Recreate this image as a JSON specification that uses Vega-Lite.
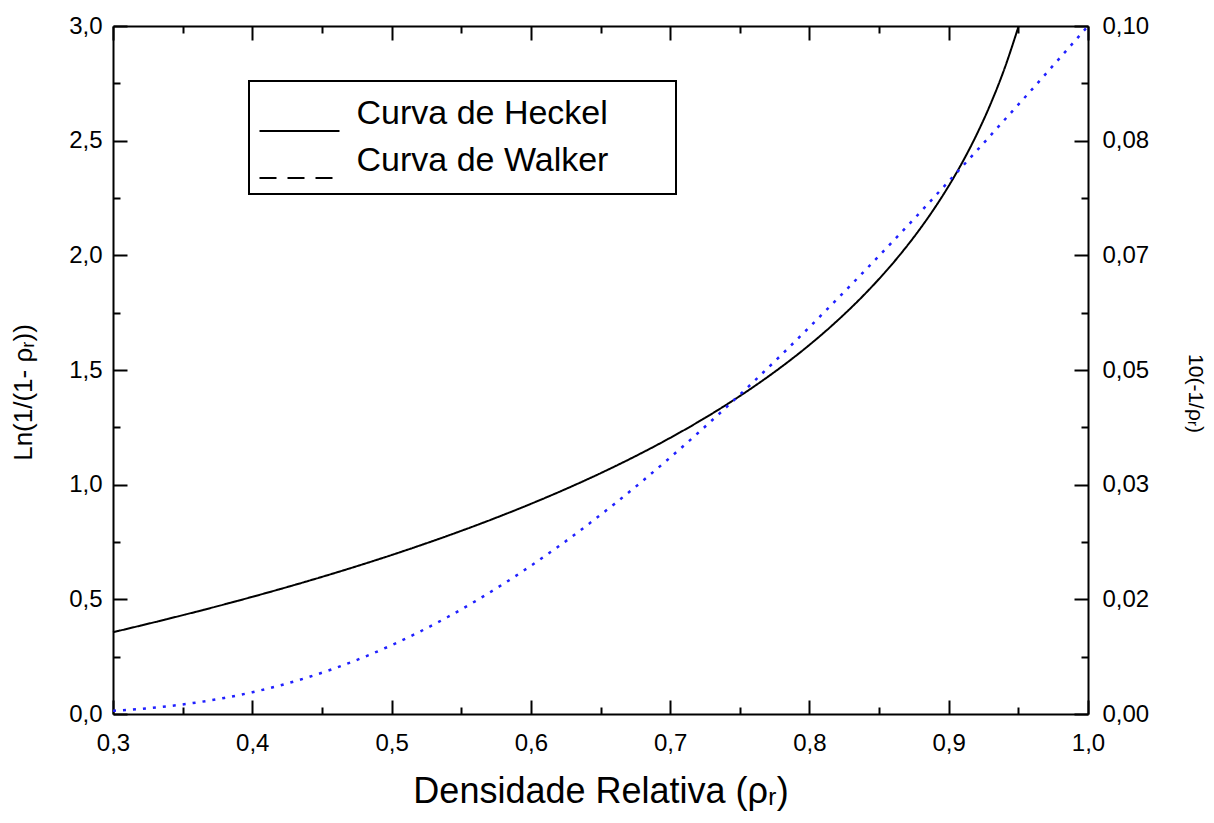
{
  "$schema": "https://vega.github.io/schema/vega-lite/v6.json",
  "width": 975,
  "height": 688,
  "autosize": {"type": "none"},
  "padding": {"left": 113, "top": 26, "right": 126, "bottom": 109},
  "background": "white",
  "config": {
    "view": {"stroke": null},
    "font": "Liberation Sans",
    "axis": {
      "domainColor": "black", "domainWidth": 2, "tickColor": "black", "tickWidth": 2,
      "labelColor": "black", "labelFont": "Liberation Sans", "labelFontSize": 24,
      "titleColor": "black", "titleFont": "Liberation Sans", "titleFontWeight": "normal",
      "grid": false, "labelOverlap": false, "labelFlush": false
    }
  },
  "datasets": {
    "heckel": [
      {"serie": "Curva de Heckel", "rho": 0.30, "valor": 0.3567},
      {"serie": "Curva de Heckel", "rho": 0.32, "valor": 0.3857},
      {"serie": "Curva de Heckel", "rho": 0.34, "valor": 0.4155},
      {"serie": "Curva de Heckel", "rho": 0.36, "valor": 0.4463},
      {"serie": "Curva de Heckel", "rho": 0.38, "valor": 0.4780},
      {"serie": "Curva de Heckel", "rho": 0.40, "valor": 0.5108},
      {"serie": "Curva de Heckel", "rho": 0.42, "valor": 0.5447},
      {"serie": "Curva de Heckel", "rho": 0.44, "valor": 0.5798},
      {"serie": "Curva de Heckel", "rho": 0.46, "valor": 0.6162},
      {"serie": "Curva de Heckel", "rho": 0.48, "valor": 0.6539},
      {"serie": "Curva de Heckel", "rho": 0.50, "valor": 0.6931},
      {"serie": "Curva de Heckel", "rho": 0.52, "valor": 0.7340},
      {"serie": "Curva de Heckel", "rho": 0.54, "valor": 0.7765},
      {"serie": "Curva de Heckel", "rho": 0.56, "valor": 0.8210},
      {"serie": "Curva de Heckel", "rho": 0.58, "valor": 0.8675},
      {"serie": "Curva de Heckel", "rho": 0.60, "valor": 0.9163},
      {"serie": "Curva de Heckel", "rho": 0.62, "valor": 0.9676},
      {"serie": "Curva de Heckel", "rho": 0.64, "valor": 1.0217},
      {"serie": "Curva de Heckel", "rho": 0.66, "valor": 1.0788},
      {"serie": "Curva de Heckel", "rho": 0.68, "valor": 1.1394},
      {"serie": "Curva de Heckel", "rho": 0.70, "valor": 1.2040},
      {"serie": "Curva de Heckel", "rho": 0.72, "valor": 1.2730},
      {"serie": "Curva de Heckel", "rho": 0.74, "valor": 1.3471},
      {"serie": "Curva de Heckel", "rho": 0.76, "valor": 1.4271},
      {"serie": "Curva de Heckel", "rho": 0.78, "valor": 1.5141},
      {"serie": "Curva de Heckel", "rho": 0.80, "valor": 1.6094},
      {"serie": "Curva de Heckel", "rho": 0.82, "valor": 1.7148},
      {"serie": "Curva de Heckel", "rho": 0.84, "valor": 1.8326},
      {"serie": "Curva de Heckel", "rho": 0.86, "valor": 1.9661},
      {"serie": "Curva de Heckel", "rho": 0.88, "valor": 2.1203},
      {"serie": "Curva de Heckel", "rho": 0.89, "valor": 2.2073},
      {"serie": "Curva de Heckel", "rho": 0.90, "valor": 2.3026},
      {"serie": "Curva de Heckel", "rho": 0.91, "valor": 2.4079},
      {"serie": "Curva de Heckel", "rho": 0.92, "valor": 2.5257},
      {"serie": "Curva de Heckel", "rho": 0.93, "valor": 2.6593},
      {"serie": "Curva de Heckel", "rho": 0.94, "valor": 2.8134},
      {"serie": "Curva de Heckel", "rho": 0.95, "valor": 2.9957}
    ],
    "walker": [
      {"serie": "Curva de Walker", "rho": 0.30, "valor": 0.000464},
      {"serie": "Curva de Walker", "rho": 0.32, "valor": 0.000750},
      {"serie": "Curva de Walker", "rho": 0.34, "valor": 0.001145},
      {"serie": "Curva de Walker", "rho": 0.36, "valor": 0.001668},
      {"serie": "Curva de Walker", "rho": 0.38, "valor": 0.002336},
      {"serie": "Curva de Walker", "rho": 0.40, "valor": 0.003162},
      {"serie": "Curva de Walker", "rho": 0.42, "valor": 0.004159},
      {"serie": "Curva de Walker", "rho": 0.44, "valor": 0.005337},
      {"serie": "Curva de Walker", "rho": 0.46, "valor": 0.006701},
      {"serie": "Curva de Walker", "rho": 0.48, "valor": 0.008254},
      {"serie": "Curva de Walker", "rho": 0.50, "valor": 0.010000},
      {"serie": "Curva de Walker", "rho": 0.52, "valor": 0.011938},
      {"serie": "Curva de Walker", "rho": 0.54, "valor": 0.014060},
      {"serie": "Curva de Walker", "rho": 0.56, "valor": 0.016379},
      {"serie": "Curva de Walker", "rho": 0.58, "valor": 0.018869},
      {"serie": "Curva de Walker", "rho": 0.60, "valor": 0.021544},
      {"serie": "Curva de Walker", "rho": 0.62, "valor": 0.024376},
      {"serie": "Curva de Walker", "rho": 0.64, "valor": 0.027384},
      {"serie": "Curva de Walker", "rho": 0.66, "valor": 0.030534},
      {"serie": "Curva de Walker", "rho": 0.68, "valor": 0.033834},
      {"serie": "Curva de Walker", "rho": 0.70, "valor": 0.037276},
      {"serie": "Curva de Walker", "rho": 0.72, "valor": 0.040842},
      {"serie": "Curva de Walker", "rho": 0.74, "valor": 0.044529},
      {"serie": "Curva de Walker", "rho": 0.76, "valor": 0.048316},
      {"serie": "Curva de Walker", "rho": 0.78, "valor": 0.052224},
      {"serie": "Curva de Walker", "rho": 0.80, "valor": 0.056234},
      {"serie": "Curva de Walker", "rho": 0.82, "valor": 0.060324},
      {"serie": "Curva de Walker", "rho": 0.84, "valor": 0.064487},
      {"serie": "Curva de Walker", "rho": 0.86, "valor": 0.068726},
      {"serie": "Curva de Walker", "rho": 0.88, "valor": 0.073027},
      {"serie": "Curva de Walker", "rho": 0.90, "valor": 0.077426},
      {"serie": "Curva de Walker", "rho": 0.92, "valor": 0.081846},
      {"serie": "Curva de Walker", "rho": 0.94, "valor": 0.086334},
      {"serie": "Curva de Walker", "rho": 0.96, "valor": 0.090830},
      {"serie": "Curva de Walker", "rho": 0.98, "valor": 0.095410},
      {"serie": "Curva de Walker", "rho": 1.00, "valor": 0.100000}
    ]
  },
  "layer": [
    {
      "data": {"name": "heckel"},
      "mark": {"type": "line", "color": "black", "strokeWidth": 2, "interpolate": "monotone"},
      "encoding": {
        "x": {
          "field": "rho", "type": "quantitative",
          "scale": {"domain": [0.3, 1.0], "nice": false, "zero": false},
          "axis": {
            "orient": "bottom",
            "values": [0.3, 0.35, 0.4, 0.45, 0.5, 0.55, 0.6, 0.65, 0.7, 0.75, 0.8, 0.85, 0.9, 0.95, 1.0],
            "labelExpr": "abs(datum.value*10 - round(datum.value*10)) < 0.001 ? replace(format(datum.value, '.1f'), '.', ',') : ''",
            "tickSize": {"condition": {"test": "abs(datum.value*10 - round(datum.value*10)) < 0.001", "value": -14}, "value": -7},
            "labelPadding": 31,
            "title": "Densidade Relativa (ρᵣ)",
            "titleFontSize": 36,
            "titlePadding": 12
          }
        },
        "y": {
          "field": "valor", "type": "quantitative",
          "scale": {"domain": [0, 3], "nice": false, "zero": false},
          "axis": {
            "orient": "left",
            "values": [0, 0.25, 0.5, 0.75, 1, 1.25, 1.5, 1.75, 2, 2.25, 2.5, 2.75, 3],
            "labelExpr": "abs(datum.value*2 - round(datum.value*2)) < 0.001 ? replace(format(datum.value, '.1f'), '.', ',') : ''",
            "tickSize": {"condition": {"test": "abs(datum.value*2 - round(datum.value*2)) < 0.001", "value": -14}, "value": -7},
            "labelPadding": 25,
            "title": "Ln(1/(1- ρᵣ))",
            "titleFontSize": 26,
            "titlePadding": 32,
            "titleY": 366
          }
        },
        "strokeDash": {
          "field": "serie", "type": "nominal",
          "scale": {"domain": ["Curva de Heckel", "Curva de Walker"], "range": [[1, 0], [17, 11]]},
          "legend": {
            "title": "\u00a0",
            "titleOrient": "right",
            "titleFontSize": 2,
            "titlePadding": 58,
            "orient": "none",
            "legendX": 136,
            "legendY": 55,
            "symbolType": "stroke",
            "symbolSize": 6400,
            "symbolStrokeWidth": 2,
            "symbolStrokeColor": "black",
            "labelFont": "Liberation Sans",
            "labelFontSize": 34,
            "labelColor": "black",
            "labelOffset": 16,
            "labelLimit": 600,
            "clipHeight": 47,
            "rowPadding": 0,
            "padding": 9.5,
            "strokeColor": "black",
            "encode": {
              "symbols": {"update": {"y": {"value": 40.5}}},
              "legend": {"update": {"strokeWidth": {"value": 2}}}
            }
          }
        }
      }
    },
    {
      "data": {"name": "walker"},
      "mark": {"type": "line", "color": "#2020ff", "strokeWidth": 2.5, "strokeDash": [3, 7], "interpolate": "monotone"},
      "encoding": {
        "x": {
          "field": "rho", "type": "quantitative",
          "axis": {
            "orient": "top",
            "values": [0.3, 0.35, 0.4, 0.45, 0.5, 0.55, 0.6, 0.65, 0.7, 0.75, 0.8, 0.85, 0.9, 0.95, 1.0],
            "labels": false,
            "tickSize": {"condition": {"test": "abs(datum.value*10 - round(datum.value*10)) < 0.001", "value": -14}, "value": -7},
            "title": null
          }
        },
        "y": {
          "field": "valor", "type": "quantitative",
          "scale": {"domain": [0, 0.1], "nice": false, "zero": false},
          "axis": {
            "orient": "right",
            "values": [0, 0.008333333, 0.016666667, 0.025, 0.033333333, 0.041666667, 0.05, 0.058333333, 0.066666667, 0.075, 0.083333333, 0.091666667, 0.1],
            "labelExpr": "round(datum.value*120) % 2 == 0 ? replace(format(datum.value, '.2f'), '.', ',') : ''",
            "tickSize": {"condition": {"test": "round(datum.value*120) % 2 == 0", "value": -14}, "value": -7},
            "labelPadding": 28,
            "title": "10(-1/ρᵣ)",
            "titleFontSize": 21,
            "titlePadding": 36,
            "titleY": 367
          }
        }
      }
    }
  ],
  "resolve": {"scale": {"y": "independent"}, "axis": {"x": "independent"}}
}
